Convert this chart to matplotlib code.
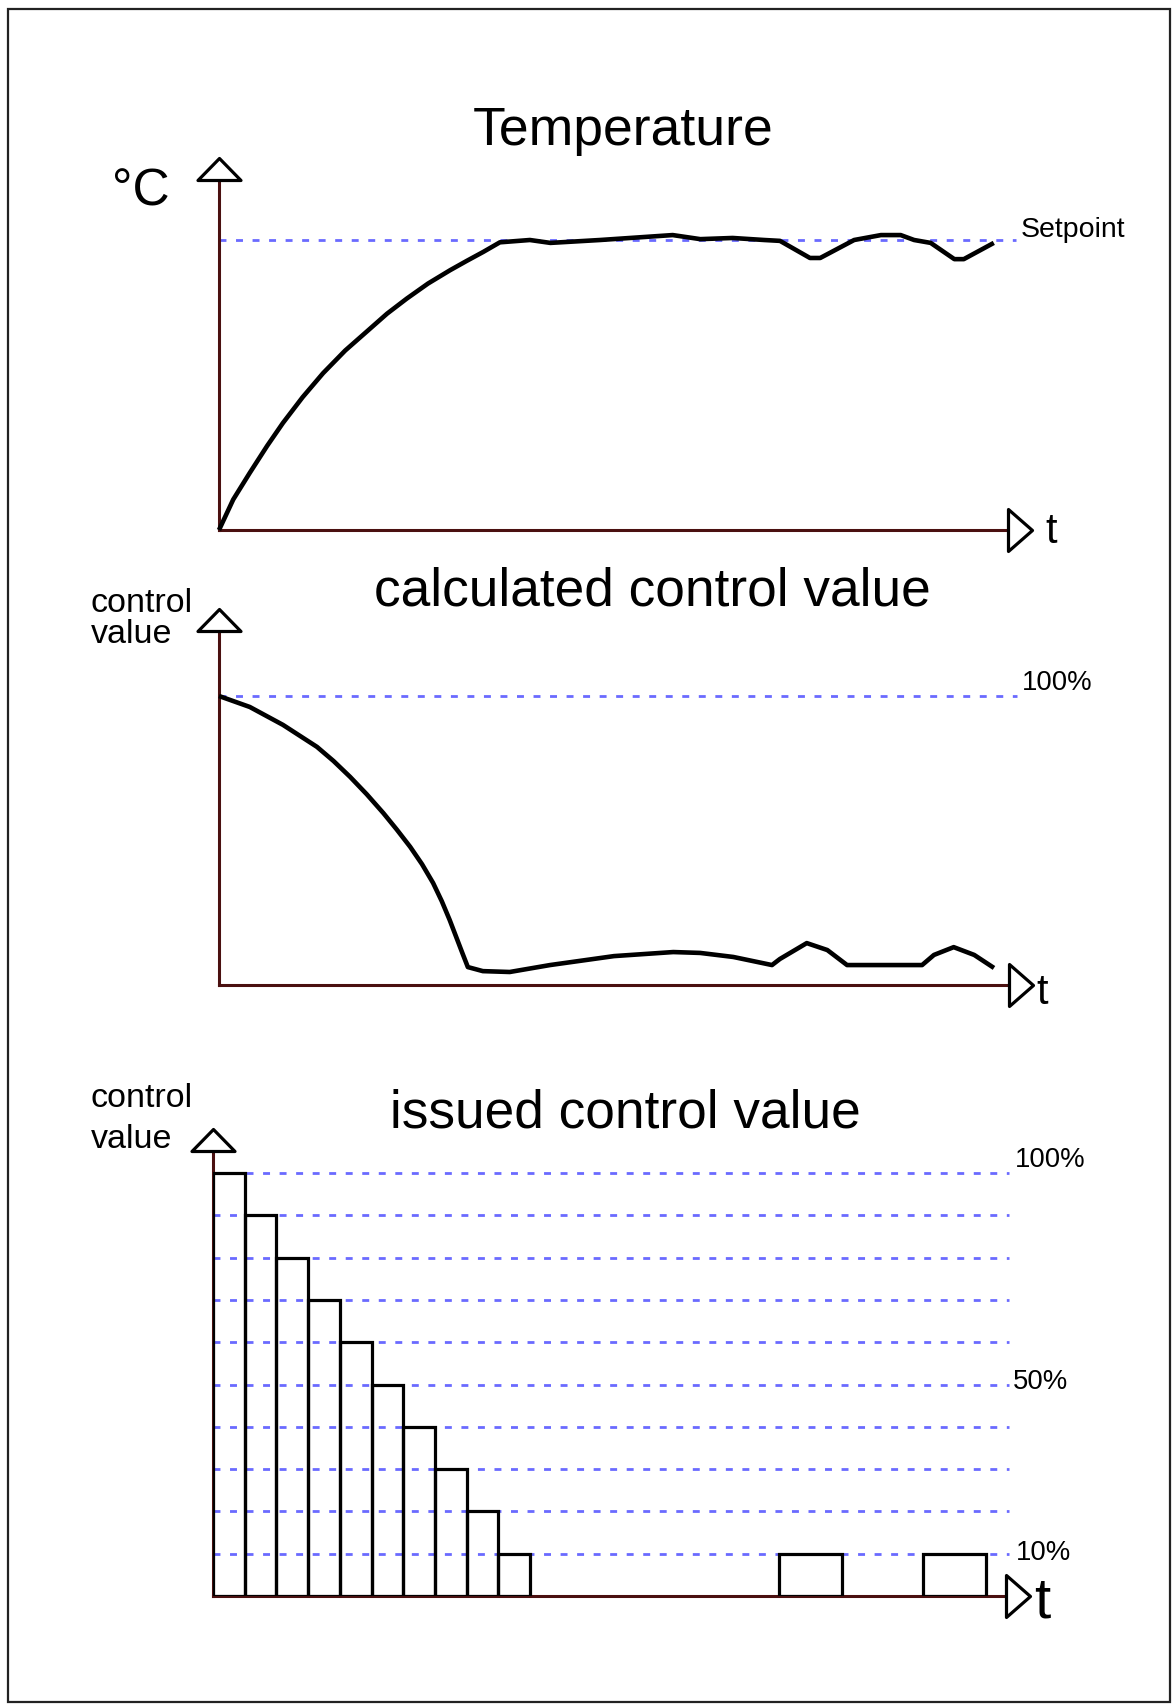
import matplotlib
matplotlib.use("Agg")
import matplotlib.pyplot as plt
from matplotlib.path import Path
from matplotlib.patches import Rectangle

plt.rcParams['font.family'] = ['Liberation Sans', 'DejaVu Sans']

# ---------------- data ----------------
# Panel 1: temperature (setpoint = 100), time in 0..100 units
temp_t = [0, 1.8, 3.9, 6.1, 8.1, 10.6, 13.2, 16.0, 18.8, 21.3, 23.8, 26.5, 29.3, 31.4,
          33.5, 35.6, 39.4, 42.0, 48.3, 57.5, 61.0, 65.1, 69.1, 71.1, 74.9, 76.2,
          80.5, 83.9, 86.4, 88.1, 90.2, 93.2, 94.4, 98.2]
temp_v = [0, 10.5, 19.7, 29.0, 36.9, 45.8, 54.1, 61.9, 68.6, 74.6, 79.8, 85.0, 89.6, 92.8,
          95.9, 99.2, 100, 99.0, 100, 101.7, 100.3, 100.7, 100, 99.7, 93.8, 93.8,
          100, 101.7, 101.7, 100, 99.0, 93.4, 93.4, 99.0]
setpoint = 100

# Panel 2: calculated control value (%)
calc_t = [0, 3.9, 8.1, 12.4, 14.5, 16.6, 18.7, 20.8, 22.5, 24.2, 25.7, 27.1, 28.2, 29.2,
          30.0, 30.8, 31.5, 33.4, 36.8, 41.9, 50.0, 57.5, 60.9, 65.1, 70.0, 71.0,
          74.4, 77.0, 79.5, 89.0, 90.5, 93.0, 95.6, 98.1]
calc_v = [100, 96.2, 90.0, 82.4, 77.5, 72.0, 66.0, 59.5, 53.8, 47.8, 41.8, 35.3, 29.0, 22.5,
          16.8, 11.1, 6.2, 4.8, 4.5, 6.9, 10.0, 11.4, 11.1, 9.7, 6.9, 9.0,
          14.5, 12.1, 6.9, 6.9, 10.4, 13.1, 10.4, 5.9]
calc_max = 100

# Panel 3: issued control value (%), time in bar-steps
issued_start = [0, 1, 2, 3, 4, 5, 6, 7, 8, 9, 17.85, 22.4]
issued_width = [1, 1, 1, 1, 1, 1, 1, 1, 1, 1, 2, 2]
issued_value = [100, 90, 80, 70, 60, 50, 40, 30, 20, 10, 10, 10]
issued_levels = [10, 20, 30, 40, 50, 60, 70, 80, 90, 100]
issued_labels = {100: "100%", 50: "50%", 10: "10%"}

titles = ["Temperature", "calculated control value", "issued control value"]

# ---------------- styling ----------------
W, H = 1172, 1704
fig = plt.figure(figsize=(W / 100, H / 100), dpi=100)

AXIS_COL = '#4a1010'
DASH_COL = '#6a6aff'
PX = 72 / 100.0  # points per pixel


def fx(px):
    return px / W


def fy(py):
    return 1 - py / H


def make_axes(L, R, T, B):
    ax = fig.add_axes([L / W, 1 - B / H, (R - L) / W, (B - T) / H])
    ax.set_xticks([])
    ax.set_yticks([])
    for s in ('top', 'right'):
        ax.spines[s].set_visible(False)
    for s in ('left', 'bottom'):
        ax.spines[s].set_color(AXIS_COL)
        ax.spines[s].set_linewidth(2.2)
    ax.patch.set_alpha(0)
    return ax


def tri_marker(verts):
    verts = [(x * PX, y * PX) for x, y in verts]
    r = max(max(abs(x), abs(y)) for x, y in verts)
    path = Path(verts + [verts[0]], closed=True)
    return path, 2 * r


up_path, up_ms = tri_marker([(-21.5, 0), (21.5, 0), (0, 22)])
right_path, right_ms = tri_marker([(0, -21), (0, 21), (24, 0)])


def add_arrows(ax):
    x0, x1 = ax.get_xlim()
    y0, y1 = ax.get_ylim()
    ax.plot([x0], [y1], marker=up_path, markersize=up_ms, mfc='white', mec='black',
            mew=2.3, clip_on=False, zorder=6, linestyle='none')
    ax.plot([x1], [y0], marker=right_path, markersize=right_ms, mfc='white', mec='black',
            mew=2.3, clip_on=False, zorder=6, linestyle='none')


DASH_LW = 2.0
dash_style = (0, (2.5, 3.45))
CURVE_KW = dict(color='black', lw=3.3, zorder=4, clip_on=False,
                solid_joinstyle='round', solid_capstyle='butt')

# ---------------- panel 1 ----------------
ax1 = make_axes(219, 1008, 180, 530)
ax1.set_xlim(0, 100)
ax1.set_ylim(0, 350 / 2.9)
ax1.plot([0, 101], [setpoint, setpoint], color=DASH_COL, lw=DASH_LW, linestyle=dash_style,
         clip_on=False, zorder=1)
ax1.plot(temp_t, temp_v, **CURVE_KW)
add_arrows(ax1)

# ---------------- panel 2 ----------------
ax2 = make_axes(219, 1009, 631, 985)
ax2.set_xlim(0, 100)
ax2.set_ylim(0, 354 / 2.89)
ax2.plot([0, 101], [calc_max, calc_max], color=DASH_COL, lw=DASH_LW, linestyle=dash_style,
         clip_on=False, zorder=1)
ax2.plot(calc_t, calc_v, **CURVE_KW)
add_arrows(ax2)

# ---------------- panel 3 ----------------
ax3 = make_axes(213, 1005.5, 1151, 1596)
ax3.set_xlim(0, 25)
ax3.set_ylim(0, 445 / 4.23)
for lv in issued_levels:
    ax3.plot([0, 25.1], [lv, lv], color=DASH_COL, lw=DASH_LW, linestyle=dash_style,
             clip_on=False, zorder=1)
ax3.bar(issued_start, issued_value, width=issued_width, align='edge', fill=False,
        edgecolor='black', linewidth=2.3, zorder=3)
add_arrows(ax3)

# ---------------- texts ----------------
fig.text(fx(623), fy(145), titles[0], fontsize=38.5, ha='center', va='baseline')
fig.text(fx(652), fy(605), titles[1], fontsize=38.3, ha='center', va='baseline')
fig.text(fx(625), fy(1127), titles[2], fontsize=38.3, ha='center', va='baseline')

fig.text(fx(112), fy(206), "°C", fontsize=37, ha='left', va='baseline')
fig.text(fx(91), fy(612), "control", fontsize=24.5, ha='left', va='baseline')
fig.text(fx(91), fy(643), "value", fontsize=24.5, ha='left', va='baseline')
fig.text(fx(91), fy(1107), "control", fontsize=24.5, ha='left', va='baseline')
fig.text(fx(91), fy(1148), "value", fontsize=24.5, ha='left', va='baseline')

fig.text(fx(1021), fy(237), "Setpoint", fontsize=20.5, ha='left', va='baseline')
fig.text(fx(1022), fy(690), "100%", fontsize=19.8, ha='left', va='baseline')
label_base = {100: 1167, 50: 1389, 10: 1560}
label_x = {100: 1015, 50: 1013, 10: 1016}
for lv, txt in issued_labels.items():
    fig.text(fx(label_x[lv]), fy(label_base[lv]), txt, fontsize=19.8, ha='left', va='baseline')

fig.text(fx(1045), fy(543), "t", fontsize=30, ha='left', va='baseline')
fig.text(fx(1036), fy(1004), "t", fontsize=30, ha='left', va='baseline')
fig.text(fx(1034), fy(1617), "t", fontsize=42, ha='left', va='baseline')

# border
fig.patches.append(Rectangle((fx(8), fy(1702)), fx(1170) - fx(8), fy(9) - fy(1702),
                             transform=fig.transFigure, fill=False, edgecolor='#222222',
                             linewidth=1.6, zorder=10))

fig.savefig("out.png", dpi=100)
